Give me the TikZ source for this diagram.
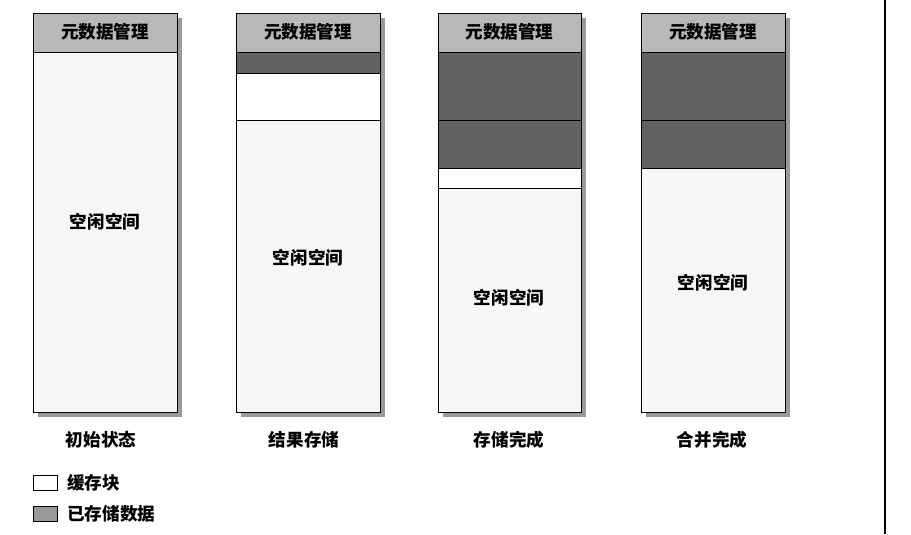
\documentclass[tikz,border=0pt]{standalone}
\usepackage{fontspec}
\newfontfamily\cjk{Noto Sans CJK SC}
\usetikzlibrary{calc}
\def\blockcol(#1:#2){%
  \fill[black!40] (#1+5, 18) rectangle (#2+5, 417);
  \draw[fill=black!3] (#1, 13) rectangle (#2, 412);
  \draw[fill=black!28] (#1, 13) rectangle (#2, 52);
  \node[lbl] at ({(#1+#2)/2}, 32) {元数据管理};}

\begin{document}
\begin{tikzpicture}[x=0.02cm, y=-0.02cm,
    lbl/.style={font=\cjk\fontsize{10}{12}\selectfont\bfseries, inner sep=0pt},
    used/.style={draw, fill=black!62},
    cache/.style={draw, fill=white}]
		%%%%% START %%%%%
		\useasboundingbox (0, 0) rectangle (911, 534);
		
		% column 1
		\blockcol(33:177)
		\node[lbl] (free1) at (105, 222) {空闲空间};
		\node[lbl] (state1) at (101, 440) {初始状态};
		
		% column 2
		\blockcol(236:380)
		\draw[used] (236, 52) rectangle (380, 73);
		\draw[cache] (236, 73) rectangle (380, 120);
		\node[lbl] (free2) at (308, 258) {空闲空间};
		\node[lbl] (state2) at (304, 440) {结果存储};
		
		% column 3
		\blockcol(438:581)
		\draw[used] (438, 52) rectangle (581, 120);
		\draw[used] (438, 120) rectangle (581, 168);
		\draw[cache] (438, 168) rectangle (581, 188);
		\node[lbl] (free3) at (509, 298) {空闲空间};
		\node[lbl] (state3) at (509, 440) {存储完成};
		
		% column 4
		\blockcol(641:785)
		\draw[used] (641, 52) rectangle (785, 120);
		\draw[used] (641, 120) rectangle (785, 168);
		\node[lbl] (free4) at (713, 283) {空闲空间};
		\node[lbl] (state4) at (712, 440) {合并完成};
		
		% legend
		\draw[cache] (33, 475) rectangle (57, 490);
		\node[lbl, anchor=west] (key1) at (67, 483) {缓存块};
		\draw[used, fill=black!40] (33, 506) rectangle (57, 521);
		\node[lbl, anchor=west] (key2) at (67, 514) {已存储数据};
		
		\draw[line width=0.6pt] (885, 0) -- (885, 534);
		%%%%% END %%%%%
	\end{tikzpicture}
\end{document}
